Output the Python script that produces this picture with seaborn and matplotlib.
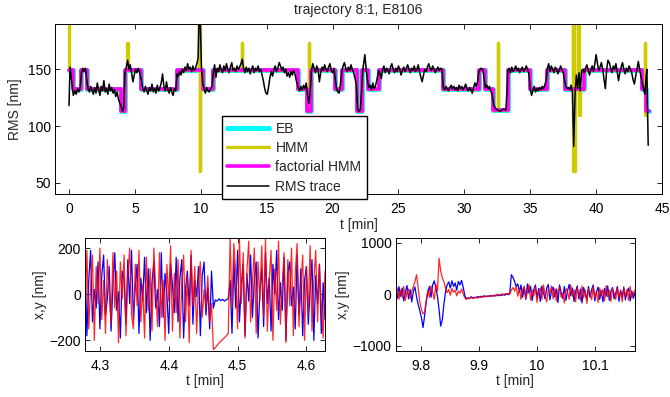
import numpy as np
import matplotlib
matplotlib.use('Agg')
import matplotlib.pyplot as plt
import seaborn as sns

# ---- step fits (EB / factorial HMM share the same switch points) ----
eb_t = [0, 0.33, 0.9, 1.34, 3.95, 4.25, 5.5, 8.18, 10.2, 10.95, 17.4, 18.05, 18.4,
        20.2, 20.7, 21.85, 22.2, 22.7, 23.5, 28.4, 31.1, 31.6, 32.2, 33.3, 35.0,
        36.27, 37.66, 39.05, 43.5, 43.75, 44.0]
eb_v = [149, 133, 149, 133, 113, 149, 133, 149, 133, 149, 133, 113, 149,
        133, 149, 113, 149, 133, 149, 133, 149, 133, 114, 149, 133,
        149, 133, 149, 133, 113, 113]
fhmm_t = list(eb_t)
fhmm_v = list(eb_v)

# HMM fit, with its fast switching spikes
hmm_t = [0, 0.03, 0.33, 0.9, 1.34, 3.95, 4.25, 4.43, 4.46, 5.5, 8.18, 9.84, 9.87, 9.9,
         9.93, 9.96, 10.2, 10.95, 13.1, 13.13, 17.4, 18.05, 18.22, 18.25, 18.4, 20.2,
         20.7, 21.85, 22.2, 22.7, 23.5, 28.4, 31.1, 31.6, 32.2, 32.55, 32.58, 33.3,
         35.0, 36.27, 37.66, 38.22, 38.26, 38.3, 38.34, 38.38, 38.66, 38.7, 38.74,
         39.05, 43.5, 43.7, 43.74, 43.78]
hmm_v = [195, 149, 133, 149, 133, 113, 149, 173, 149, 133, 149, 195, 149, 195,
         60, 149, 133, 149, 173, 149, 133, 113, 173, 113, 149, 133,
         149, 113, 149, 133, 149, 133, 149, 133, 114, 173, 114, 149,
         133, 149, 133, 195, 60, 195, 60, 133, 195, 110, 133,
         149, 133, 173, 110, 110]

# RMS trace
rms_t = [0, 0.08, 0.2, 0.33, 0.45, 0.55, 0.65, 0.75, 0.85, 0.95, 1.05, 1.15, 1.25, 1.35,
         1.45, 1.55, 1.65, 1.75, 1.85, 1.95, 2.05, 2.15, 2.25, 2.35, 2.45, 2.55, 2.65,
         2.75, 2.85, 2.95, 3.05, 3.15, 3.25, 3.35, 3.45, 3.55, 3.65, 3.75, 3.85, 3.95,
         4.05, 4.15, 4.25, 4.35, 4.45, 4.55, 4.65, 4.75, 4.85, 4.95, 5.05, 5.15, 5.25,
         5.35, 5.5, 5.6, 5.7, 5.8, 5.9, 6.0, 6.1, 6.2, 6.3, 6.4, 6.5, 6.6, 6.7, 6.8,
         6.9, 7.0, 7.1, 7.2, 7.3, 7.4, 7.5, 7.6, 7.7, 7.8, 7.9, 8.0, 8.1, 8.2, 8.3,
         8.4, 8.5, 8.6, 8.7, 8.8, 8.9, 9.0, 9.1, 9.2, 9.3, 9.4, 9.5, 9.6, 9.7, 9.8,
         9.88, 9.95, 10.05, 10.15, 10.25, 10.35, 10.45, 10.55, 10.65, 10.75, 10.85,
         10.95, 11.05, 11.15, 11.25, 11.35, 11.45, 11.55, 11.65, 11.75, 11.85, 11.95,
         12.05, 12.15, 12.25, 12.35, 12.45, 12.55, 12.65, 12.75, 12.85, 12.95, 13.05,
         13.15, 13.25, 13.35, 13.45, 13.55, 13.65, 13.75, 13.85, 13.95, 14.05, 14.15,
         14.25, 14.35, 14.45, 14.55, 14.65, 14.75, 14.85, 14.95, 15.05, 15.15, 15.25,
         15.35, 15.45, 15.55, 15.65, 15.75, 15.85, 15.95, 16.05, 16.15, 16.25, 16.35,
         16.45, 16.55, 16.65, 16.75, 16.85, 16.95, 17.05, 17.15, 17.25, 17.4, 17.5,
         17.6, 17.7, 17.8, 17.9, 18.0, 18.1, 18.2, 18.3, 18.4, 18.5, 18.6, 18.7, 18.8,
         18.9, 19.0, 19.1, 19.2, 19.3, 19.4, 19.5, 19.6, 19.7, 19.8, 19.9, 20.0, 20.1,
         20.2, 20.3, 20.4, 20.5, 20.6, 20.7, 20.8, 20.9, 21.0, 21.1, 21.2, 21.3, 21.4,
         21.5, 21.6, 21.7, 21.8, 21.9, 22.0, 22.1, 22.2, 22.3, 22.45, 22.55, 22.65,
         22.75, 22.85, 22.95, 23.05, 23.15, 23.25, 23.35, 23.5, 23.6, 23.7, 23.8, 23.9,
         24.0, 24.1, 24.2, 24.3, 24.4, 24.5, 24.6, 24.7, 24.8, 24.9, 25.0, 25.1, 25.2,
         25.3, 25.4, 25.5, 25.6, 25.7, 25.8, 25.9, 26.0, 26.1, 26.2, 26.3, 26.4, 26.5,
         26.6, 26.7, 26.8, 26.9, 27.0, 27.1, 27.2, 27.3, 27.4, 27.5, 27.6, 27.7, 27.8,
         27.9, 28.0, 28.1, 28.2, 28.3, 28.4, 28.5, 28.6, 28.7, 28.8, 28.9, 29.0, 29.1,
         29.2, 29.3, 29.4, 29.5, 29.6, 29.7, 29.8, 29.9, 30.0, 30.1, 30.2, 30.3, 30.4,
         30.5, 30.6, 30.7, 30.8, 30.9, 31.0, 31.1, 31.25, 31.4, 31.5, 31.6, 31.7, 31.8,
         31.9, 32.0, 32.1, 32.25, 32.4, 32.55, 32.7, 32.85, 33.0, 33.15, 33.25, 33.3,
         33.4, 33.5, 33.6, 33.7, 33.8, 33.9, 34.0, 34.1, 34.2, 34.3, 34.4, 34.5, 34.6,
         34.7, 34.8, 34.9, 35.0, 35.1, 35.2, 35.3, 35.4, 35.5, 35.6, 35.7, 35.8, 35.9,
         36.0, 36.1, 36.2, 36.3, 36.4, 36.5, 36.6, 36.7, 36.8, 36.9, 37.0, 37.1, 37.2,
         37.3, 37.4, 37.5, 37.6, 37.7, 37.8, 37.9, 38.0, 38.1, 38.2, 38.3, 38.4, 38.5,
         38.6, 38.7, 38.8, 38.9, 39.0, 39.1, 39.2, 39.3, 39.4, 39.5, 39.6, 39.7, 39.8,
         39.9, 40.0, 40.1, 40.2, 40.3, 40.4, 40.5, 40.6, 40.7, 40.8, 40.9, 41.0, 41.1,
         41.2, 41.3, 41.4, 41.5, 41.6, 41.7, 41.8, 41.9, 42.0, 42.1, 42.2, 42.3, 42.4,
         42.5, 42.6, 42.7, 42.8, 42.9, 43.0, 43.1, 43.2, 43.3, 43.4, 43.5, 43.6, 43.7,
         43.8, 43.85, 43.95]
rms_v = [118, 152, 140, 127, 131, 128, 133, 130, 134, 147, 151, 148, 151, 140,
         133, 130, 135, 131, 128, 134, 129, 138, 132, 127, 135, 131, 140,
         130, 133, 128, 137, 131, 134, 129, 132, 126, 130, 124, 120, 118,
         113, 116, 147, 152, 158, 150, 154, 147, 139, 145, 150, 147, 151,
         148, 140, 133, 130, 135, 131, 128, 134, 131, 137, 130, 133, 129, 136, 131,
         134, 138, 146, 135, 131, 139, 132, 129, 134, 130, 127, 133, 131, 146, 144,
         148, 145, 150, 147, 152, 149, 155, 150, 152, 148, 153, 149, 151, 155, 160,
         200, 200, 152, 138, 133, 129, 134, 131, 130, 133, 135,
         147, 154, 143, 151, 148, 154, 150, 147, 153, 149, 155,
         150, 147, 152, 156, 149, 151, 148, 153, 150, 152, 155,
         159, 151, 147, 152, 148, 151, 146, 150, 153, 147, 151,
         149, 153, 148, 150, 145, 140, 133, 129, 128, 135, 143,
         148, 144, 150, 153, 148, 151, 156, 153, 149, 152, 147,
         150, 144, 147, 143, 148, 145, 149, 146, 140, 134, 131,
         135, 132, 136, 133, 138, 128, 120, 130, 149, 155, 151, 147, 153,
         150, 139, 147, 152, 149, 154, 150, 148, 152, 155, 149, 147, 151,
         142, 133, 130, 129, 137, 148, 153, 156, 151, 148, 152, 149, 154,
         150, 147, 142, 137, 115, 113, 114, 130, 150, 163, 150, 140,
         134, 136, 132, 138, 133, 135, 140, 149, 146, 142, 150, 153,
         147, 151, 149, 146, 152, 155, 150, 147, 151, 148, 153, 150, 145,
         149, 152, 148, 151, 154, 150, 147, 151, 149, 153, 148, 150, 154,
         148, 143, 139, 145, 150, 148, 152, 155, 151, 149, 153, 150, 147,
         150, 152, 149, 151, 150, 134, 132, 135, 133, 131, 134, 136, 133,
         135, 132, 134, 131, 136, 133, 135, 132, 134, 137, 133, 131, 134,
         132, 129, 134, 138, 135, 139, 148, 151, 150, 142, 134, 136, 133,
         135, 131, 128, 118, 115, 114, 113, 114, 115, 114, 134, 149,
         151, 147, 152, 148, 150, 153, 149, 151, 147, 150, 152, 148, 150,
         153, 150, 146, 133, 127, 131, 135, 130, 133, 131, 134, 132, 135,
         133, 136, 140, 151, 155, 148, 153, 150, 147, 152, 150, 146, 149,
         153, 150, 147, 140, 135, 133, 134, 132, 136, 130, 82, 128, 145,
         133, 147, 131, 149, 150, 147, 151, 154, 149, 145, 150, 153, 148,
         155, 163, 155, 149, 152, 156, 150, 141, 133, 150, 158, 156, 151,
         147, 153, 150, 155, 148, 140, 147, 152, 156, 150, 146, 151, 148,
         153, 150, 147, 141, 137, 144, 150, 157, 150, 144, 138, 133, 128,
         145, 150, 83]

# zoomed x,y traces around t = 4.4 min
left_span = (4.278, 4.627)
left_x = [150, -180, 60, 190, -120, 20, -60, 140, -150, 80,
          170, -90, -20, 120, -160, 40, 180, -70, 10, -190,
          100, 60, -130, 150, -40, 190, -110, 30, 130, -170,
          70, -30, 160, -80, 110, -200, 50, 140, -60, 20,
          -140, 180, -100, 90, 0, -170, 130, 40, -80, 160,
          -120, 70, 150, -190, 20, 100, -50, 170, -130, 60,
          -10, 120, -180, 80, 140, -90, 30, -150, 100, -60,
          -25, -30, -20, -28, -22, -30, -24, -20, 60, -170,
          150, -60, 190, -120, 40, 130, -180, 90, -30, 170,
          -100, 60, 140, -190, 20, 110, -140, 180, -40, 70,
          -160, 130, 0, 190, -110, 50, -70, 160, -200, 90,
          140, -50, 30, -150, 170, -90, 110, -180, 60, 120,
          -130, 20, 150, -200, 80, -40, 130, -170, 50, -110]
left_y = [-80, 190, -150, 30, 170, -200, 120, -40, 200, -110,
          60, -170, 150, 10, -130, 180, -60, 100, -210, 140,
          -20, 170, -180, 80, 200, -90, -150, 130, -50, 190,
          -120, 40, -190, 160, -70, 110, -160, 200, 20, -140,
          180, -100, 60, -200, 130, -30, 210, -160, 90, -80,
          150, -190, 40, 170, -120, 80, -210, 190, -50, 120,
          -170, 60, 140, -100, 20, -60, 80, -120, -40, -240,
          -232, -222, -212, -204, -196, -188, -180, -170, 240, -60,
          220, 90, -150, 240, -40, 180, -190, 100, 230, -120,
          50, 200, -170, 140, -30, 210, -100, 240, -160, 60,
          190, -200, 110, -70, 230, -130, 40, 180, -210, 150,
          -50, 200, -180, 90, 220, -140, 30, 170, -200, 120,
          -90, 210, -160, 60, 190, -120, 130, -60, -190, 100]

# zoomed x,y traces around t = 10 min
right_span = (9.756, 10.169)
right_x = [60, -80, 150, -40, 120, -130, 30, 170, -90, 90,
           -150, 60, 140, -60, -200, -320, -450, -650, -420, -150,
           40, 150, -60, 180, 260, 120, -40, -300, -620, -500,
           -200, 50, 180, 240, 120, 260, 150, 220, 80, 250,
           180, 270, 140, -20, -90, -70, -80, -50, -75, -60,
           -70, -45, -60, -40, -55, -30, -50, -35, -45, -25,
           -40, -20, -35, -10, -30, -15, -25, 0, -20, 10,
           -10, 20, 380, 330, 250, 150, 200, 40, 180, -60,
           130, -100, 200, 20, 150, -120, 90, 180, -70, 110,
           -140, 160, 30, -90, 120, 190, -110, 60, 140, -50,
           100, -160, 180, 40, -80, 150, -120, 70, 190, -30,
           120, -140, 50, 160, -90, 100, -170, 130, 20, -110,
           150, -60, 90, 180, -130, 40, 140, -100, 70, -150,
           110, -40, 160, -120, 60, 130, -90, 20, 150, -140,
           80, -60, 140, -110, 50, 120, -130, 60, -80, 40]
right_y = [-40, 120, -100, 80, -60, 150, -120, 40, 100, -80,
           60, 150, 250, 380, 120, -150, -300, -380, -350, -120,
           80, -60, 160, 40, -100, 200, 60, 700, 450, 320,
           250, 120, 30, 90, -20, 110, 40, 80, -30, 60,
           20, 100, 10, -70, -100, -80, -90, -60, -85, -70,
           -60, -75, -50, -65, -40, -55, -35, -50, -30, -40,
           -25, -40, -15, -30, -5, -20, 5, -15, 10, -5,
           15, 0, 80, 130, 60, 150, -40, 120, -100, 90,
           160, -80, 40, 190, -120, 80, -30, 140, -160, 60,
           120, -100, 180, -20, -150, 90, 30, 160, -90, 110,
           -130, 70, 140, -60, 20, -170, 110, 50, -100, 180,
           -40, 90, -150, 130, 10, -120, 160, -70, 80, -180,
           100, 30, -110, 150, -80, 60, -160, 120, -20, 90,
           -130, 170, -50, 80, -140, 110, 20, -100, 140, -60,
           60, -150, 120, -40, 90, -120, 150, -70, 30, 80]

sns.set_style('ticks')
plt.rcParams['font.family'] = ['Liberation Sans', 'DejaVu Sans']
plt.rcParams['font.size'] = 10

fig = plt.figure(figsize=(6.7, 3.97), dpi=100)
ax = fig.add_axes([0.0821, 0.5113, 0.906, 0.4282])
ax_l = fig.add_axes([0.1269, 0.1166, 0.3582, 0.2846])
ax_r = fig.add_axes([0.5906, 0.1166, 0.3572, 0.2846])

common = dict(estimator=None, sort=False, drawstyle='steps-post')
sns.lineplot(x=eb_t, y=eb_v, ax=ax, color=(0, 1, 1), linewidth=3.6, label='EB', **common)
sns.lineplot(x=hmm_t, y=hmm_v, ax=ax, color=(0.8, 0.8, 0), linewidth=2.4, label='HMM', **common)
sns.lineplot(x=fhmm_t, y=fhmm_v, ax=ax, color=(1, 0, 1), linewidth=2.6, label='factorial HMM', **common)
sns.lineplot(x=rms_t, y=rms_v, ax=ax, color='black', linewidth=1.1, estimator=None, sort=False,
             label='RMS trace')

ax.set_xlim(-1.06, 45)
ax.set_ylim(40, 190)
ax.set_xticks(range(0, 46, 5))
ax.set_yticks([50, 100, 150])
ax.set_xlabel('t [min]', labelpad=1)
ax.set_ylabel('RMS [nm]', labelpad=4)
ax.set_title('trajectory 8:1, E8106', fontsize=10, pad=7)
ax.legend(loc='lower left', bbox_to_anchor=(0.275, -0.03), fancybox=False, framealpha=1,
          edgecolor='black', handlelength=3.0, handletextpad=0.45, labelspacing=0.38,
          borderpad=0.4, borderaxespad=0)

for axis, span, xs, ys in [(ax_l, left_span, left_x, left_y), (ax_r, right_span, right_x, right_y)]:
    tx = np.linspace(span[0], span[1], len(xs))
    ty = np.linspace(span[0], span[1], len(ys))
    sns.lineplot(x=tx, y=xs, ax=axis, color=(0, 0, 1), linewidth=0.9, estimator=None, sort=False)
    sns.lineplot(x=ty, y=ys, ax=axis, color=(1, 0, 0), linewidth=0.9, alpha=0.85,
                 estimator=None, sort=False)
    axis.set_xlim(span)
    axis.set_xlabel('t [min]', labelpad=1)
    axis.set_ylabel('x,y [nm]', labelpad=2)

ax_l.set_ylim(-245, 245)
ax_l.set_xticks([4.3, 4.4, 4.5, 4.6])
ax_l.set_yticks([-200, 0, 200])
ax_r.set_ylim(-1100, 1100)
ax_r.set_xticks([9.8, 9.9, 10.0, 10.1])
ax_r.set_xticklabels(['9.8', '9.9', '10', '10.1'])
ax_r.set_yticks([-1000, 0, 1000])

for a in [ax, ax_l, ax_r]:
    a.tick_params(direction='in', top=True, right=True, length=3.5, width=0.6,
                  colors='black', labelsize=10)
    a.tick_params(axis='x', pad=6)
    a.tick_params(axis='y', pad=3)
    for s in a.spines.values():
        s.set_linewidth(0.7)
        s.set_color('black')
    a.yaxis.set_major_formatter(matplotlib.ticker.FuncFormatter(
        lambda v, p: f'{v:.0f}'.replace('-', '\u2212')))

fig.savefig('out.png', dpi=100)
